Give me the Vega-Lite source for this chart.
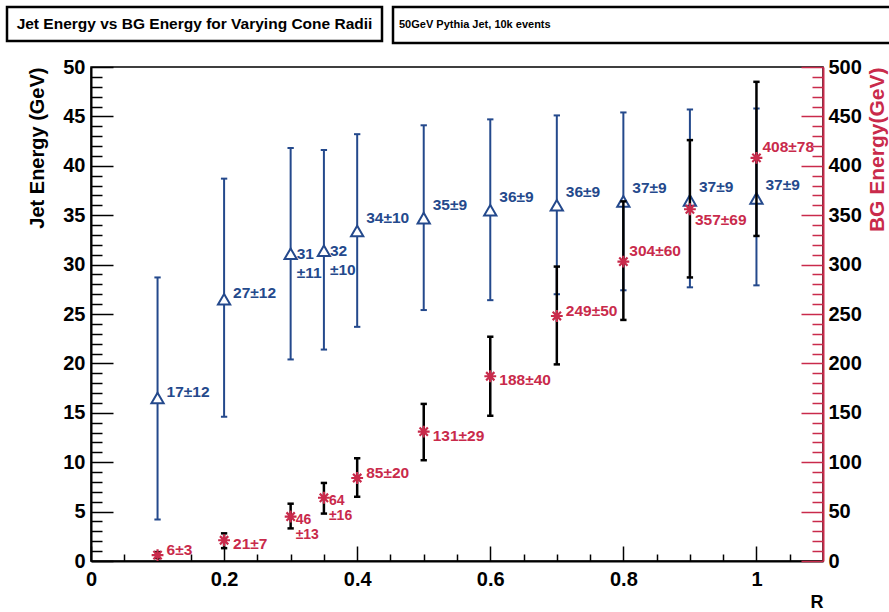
{
  "$schema": "https://vega.github.io/schema/vega-lite/v6.json",
  "padding": {"left": 5, "top": 5, "right": 0, "bottom": 0},
  "background": "white",
  "config": {
    "view": {"stroke": null},
    "font": "Liberation Sans",
    "axis": {"grid": false, "labelFont": "Liberation Sans", "titleFont": "Liberation Sans", "labelFontWeight": "bold", "titleFontWeight": "bold", "labelColor": "black", "titleColor": "black", "labelFlush": false, "labelOverlap": false, "tickCount": 200}
  },
  "spacing": 11,
  "vconcat": [
    {
      "spacing": 7,
      "hconcat": [
        {
          "width": 375, "height": 34,
          "view": {"stroke": "black", "strokeWidth": 2.5},
          "data": {"values": [{"t": "Jet Energy vs BG Energy for Varying Cone Radii"}]},
          "mark": {"type": "text", "font": "Liberation Sans", "fontWeight": "bold", "fontSize": 15.5, "color": "black"},
          "encoding": {"text": {"field": "t"}}
        },
        {
          "width": 500, "height": 36,
          "view": {"stroke": "black", "strokeWidth": 2.5},
          "data": {"values": [{"t": "50GeV Pythia Jet, 10k events"}]},
          "mark": {"type": "text", "font": "Liberation Sans", "fontWeight": "bold", "fontSize": 11, "color": "black", "align": "left", "x": 6},
          "encoding": {"text": {"field": "t"}}
        }
      ]
    },
    {
      "spacing": 0,
      "hconcat": [
        {"width": 20, "height": 10, "data": {"values": []}, "mark": "point"},
        {
          "width": 732, "height": 494,
          "view": {"stroke": "black", "strokeWidth": 1.5},
          "data": {"values": [
            {"r": 0.1, "jet": 16.5, "jetLo": 4.2, "jetHi": 28.7, "jl": "17±12", "bg": 6, "bgLo": 3, "bgHi": 9, "bl": "6±3"},
            {"r": 0.2, "jet": 26.5, "jetLo": 14.6, "jetHi": 38.7, "jl": "27±12", "bg": 21, "bgLo": 13, "bgHi": 28, "bl": "21±7"},
            {"r": 0.3, "jet": 31.1, "jetLo": 20.4, "jetHi": 41.8, "jl": "31\n±11", "bg": 45, "bgLo": 33, "bgHi": 58, "bl": "46\n±13"},
            {"r": 0.35, "jet": 31.4, "jetLo": 21.4, "jetHi": 41.6, "jl": "32\n±10", "bg": 64, "bgLo": 48, "bgHi": 79, "bl": "64\n±16"},
            {"r": 0.4, "jet": 33.4, "jetLo": 23.7, "jetHi": 43.2, "jl": "34±10", "bg": 84, "bgLo": 65, "bgHi": 104, "bl": "85±20"},
            {"r": 0.5, "jet": 34.7, "jetLo": 25.4, "jetHi": 44.1, "jl": "35±9", "bg": 131, "bgLo": 102, "bgHi": 159, "bl": "131±29"},
            {"r": 0.6, "jet": 35.5, "jetLo": 26.4, "jetHi": 44.7, "jl": "36±9", "bg": 187, "bgLo": 147, "bgHi": 227, "bl": "188±40"},
            {"r": 0.7, "jet": 36.0, "jetLo": 27.0, "jetHi": 45.1, "jl": "36±9", "bg": 248, "bgLo": 199, "bgHi": 298, "bl": "249±50"},
            {"r": 0.8, "jet": 36.4, "jetLo": 27.4, "jetHi": 45.4, "jl": "37±9", "bg": 303, "bgLo": 244, "bgHi": 364, "bl": "304±60"},
            {"r": 0.9, "jet": 36.5, "jetLo": 27.7, "jetHi": 45.7, "jl": "37±9", "bg": 356, "bgLo": 287, "bgHi": 426, "bl": "357±69"},
            {"r": 1.0, "jet": 36.7, "jetLo": 27.9, "jetHi": 45.8, "jl": "37±9", "bg": 408, "bgLo": 329, "bgHi": 485, "bl": "408±78"}
          ]},
          "resolve": {"scale": {"y": "independent"}},
          "layer": [
            {
              "encoding": {
                "x": {"field": "r", "type": "quantitative",
                  "scale": {"domain": [0, 1.1], "nice": false, "zero": false},
                  "axis": {
                    "title": "R", "titleAnchor": "end", "titleFontSize": 18, "titlePadding": -4,
                    "values": [0, 0.05, 0.1, 0.15, 0.2, 0.25, 0.3, 0.35, 0.4, 0.45, 0.5, 0.55, 0.6, 0.65, 0.7, 0.75, 0.8, 0.85, 0.9, 0.95, 1.0, 1.05],
                    "tickCount": 200,
                    "labelExpr": "abs(datum.value*5 - round(datum.value*5)) < 0.001 ? format(datum.value, '~g') : ''",
                    "tickSize": {"condition": {"test": "abs(datum.value*5 - round(datum.value*5)) < 0.001", "value": -15}, "value": -7},
                    "tickColor": "black", "tickWidth": 1.5, "domainColor": "black", "domainWidth": 2,
                    "labelFontSize": 20, "labelPadding": 23
                  }
                }
              },
              "layer": [
                {
                  "mark": {"type": "rule", "color": "#24498c", "strokeWidth": 2},
                  "encoding": {
                    "y": {"field": "jetLo", "type": "quantitative",
                      "scale": {"domain": [0, 50], "nice": false},
                      "axis": {
                        "title": "Jet Energy (GeV)", "titleAnchor": "end", "titleFontSize": 20, "titlePadding": 15,
                        "values": [0,1,2,3,4,5,6,7,8,9,10,11,12,13,14,15,16,17,18,19,20,21,22,23,24,25,26,27,28,29,30,31,32,33,34,35,36,37,38,39,40,41,42,43,44,45,46,47,48,49,50],
                        "tickCount": 200,
                        "labelExpr": "datum.value % 5 === 0 ? format(datum.value, 'd') : ''",
                        "tickSize": {"condition": {"test": "datum.value % 5 === 0", "value": -22}, "value": -11},
                        "tickColor": "black", "tickWidth": 1.5, "domainColor": "black", "domainWidth": 2,
                        "labelFontSize": 20, "labelPadding": 28
                      }
                    },
                    "y2": {"field": "jetHi"}
                  }
                },
                {
                  "mark": {"type": "point", "shape": "M-1,0L1,0", "size": 40, "filled": false, "color": "#24498c", "strokeWidth": 2, "opacity": 1},
                  "encoding": {"y": {"field": "jetLo", "type": "quantitative"}}
                },
                {
                  "mark": {"type": "point", "shape": "M-1,0L1,0", "size": 40, "filled": false, "color": "#24498c", "strokeWidth": 2, "opacity": 1},
                  "encoding": {"y": {"field": "jetHi", "type": "quantitative"}}
                },
                {
                  "mark": {"type": "point", "shape": "triangle-up", "size": 150, "fill": "white", "stroke": "#24498c", "strokeWidth": 2, "opacity": 1, "fillOpacity": 1},
                  "encoding": {"y": {"field": "jet", "type": "quantitative"}}
                },
                {
                  "transform": [{"filter": {"field": "r", "oneOf": [0.1, 0.2]}}],
                  "mark": {"type": "text", "align": "left", "baseline": "middle", "dx": 9, "dy": -6, "fontSize": 15.5, "fontWeight": "bold", "color": "#24498c"},
                  "encoding": {"y": {"field": "jet", "type": "quantitative"}, "text": {"field": "jl"}}
                },
                {
                  "transform": [{"filter": {"field": "r", "oneOf": [0.4, 0.5, 0.6, 0.7, 0.8, 0.9, 1.0]}}],
                  "mark": {"type": "text", "align": "left", "baseline": "middle", "dx": 9, "dy": -13, "fontSize": 15.5, "fontWeight": "bold", "color": "#24498c"},
                  "encoding": {"y": {"field": "jet", "type": "quantitative"}, "text": {"field": "jl"}}
                },
                {
                  "transform": [{"filter": {"field": "r", "oneOf": [0.3, 0.35]}}],
                  "mark": {"type": "text", "align": "left", "baseline": "middle", "lineBreak": "\n", "lineHeight": 19, "dx": 6, "dy": 0, "fontSize": 15.5, "fontWeight": "bold", "color": "#24498c"},
                  "encoding": {"y": {"field": "jet", "type": "quantitative"}, "text": {"field": "jl"}}
                }
              ]
            },
            {
              "encoding": {"x": {"field": "r", "type": "quantitative"}},
              "layer": [
                {
                  "mark": {"type": "rule", "color": "black", "strokeWidth": 2.5},
                  "encoding": {
                    "y": {"field": "bgLo", "type": "quantitative",
                      "scale": {"domain": [0, 500], "nice": false},
                      "axis": {
                        "orient": "right",
                        "title": "BG Energy(GeV)", "titleAnchor": "end", "titleFontSize": 21, "titleColor": "#c92a4b", "titleAngle": 270, "titleBaseline": "top", "titlePadding": 5,
                        "values": [0,10,20,30,40,50,60,70,80,90,100,110,120,130,140,150,160,170,180,190,200,210,220,230,240,250,260,270,280,290,300,310,320,330,340,350,360,370,380,390,400,410,420,430,440,450,460,470,480,490,500],
                        "tickCount": 200,
                        "labelExpr": "datum.value % 50 === 0 ? format(datum.value, 'd') : ''",
                        "tickSize": {"condition": {"test": "datum.value % 50 === 0", "value": -22}, "value": -11},
                        "tickColor": "#c92a4b", "tickWidth": 1.5, "domainColor": "#c92a4b", "domainWidth": 2,
                        "labelFontSize": 20, "labelPadding": 27
                      }
                    },
                    "y2": {"field": "bgHi"}
                  }
                },
                {
                  "mark": {"type": "point", "shape": "M-1,0L1,0", "size": 40, "filled": false, "color": "black", "strokeWidth": 2.5, "opacity": 1},
                  "encoding": {"y": {"field": "bgLo", "type": "quantitative"}}
                },
                {
                  "mark": {"type": "point", "shape": "M-1,0L1,0", "size": 40, "filled": false, "color": "black", "strokeWidth": 2.5, "opacity": 1},
                  "encoding": {"y": {"field": "bgHi", "type": "quantitative"}}
                },
                {
                  "mark": {"type": "point", "shape": "M-1,0L1,0M0,-1L0,1M-0.7,-0.7L0.7,0.7M-0.7,0.7L0.7,-0.7", "size": 140, "filled": false, "color": "#c92a4b", "strokeWidth": 2.2, "opacity": 1},
                  "encoding": {"y": {"field": "bg", "type": "quantitative"}}
                },
                {
                  "transform": [{"filter": {"field": "r", "oneOf": [0.1, 0.4, 0.7]}}],
                  "mark": {"type": "text", "align": "left", "baseline": "middle", "dx": 9, "dy": -5, "fontSize": 15.5, "fontWeight": "bold", "color": "#c92a4b"},
                  "encoding": {"y": {"field": "bg", "type": "quantitative"}, "text": {"field": "bl"}}
                },
                {
                  "transform": [{"filter": {"field": "r", "oneOf": [0.8, 1.0]}}],
                  "mark": {"type": "text", "align": "left", "baseline": "middle", "dx": 6, "dy": -11, "fontSize": 15.5, "fontWeight": "bold", "color": "#c92a4b"},
                  "encoding": {"y": {"field": "bg", "type": "quantitative"}, "text": {"field": "bl"}}
                },
                {
                  "transform": [{"filter": {"field": "r", "oneOf": [0.2, 0.5, 0.6]}}],
                  "mark": {"type": "text", "align": "left", "baseline": "middle", "dx": 9, "dy": 4, "fontSize": 15.5, "fontWeight": "bold", "color": "#c92a4b"},
                  "encoding": {"y": {"field": "bg", "type": "quantitative"}, "text": {"field": "bl"}}
                },
                {
                  "transform": [{"filter": {"field": "r", "oneOf": [0.9]}}],
                  "mark": {"type": "text", "align": "left", "baseline": "middle", "dx": 5, "dy": 11, "fontSize": 15.5, "fontWeight": "bold", "color": "#c92a4b"},
                  "encoding": {"y": {"field": "bg", "type": "quantitative"}, "text": {"field": "bl"}}
                },
                {
                  "transform": [{"filter": {"field": "r", "oneOf": [0.3, 0.35]}}],
                  "mark": {"type": "text", "align": "left", "baseline": "middle", "lineBreak": "\n", "lineHeight": 15, "dx": 5, "dy": 3, "fontSize": 14, "fontWeight": "bold", "color": "#c92a4b"},
                  "encoding": {"y": {"field": "bg", "type": "quantitative"}, "text": {"field": "bl"}}
                }
              ]
            }
          ]
        }
      ]
    }
  ]
}
